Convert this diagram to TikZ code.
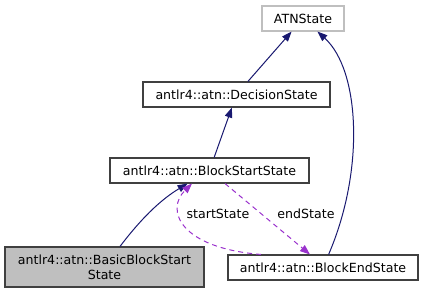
\documentclass[tikz,border=0pt]{standalone}
\usepackage{fontspec}
\setmainfont{DejaVu Sans}
\usetikzlibrary{arrows.meta}

\definecolor{navyedge}{HTML}{191970}
\definecolor{useedge}{HTML}{9A32CD}
\definecolor{boxline}{HTML}{404040}
\definecolor{boxgray}{HTML}{BFBFBF}

\begin{document}
\begin{tikzpicture}[x=1pt,y=-1pt,>={Triangle[length=10pt,width=7.5pt]},
  font=\fontsize{12.6}{15}\selectfont,
  cls/.style={draw=boxline,line width=1.1pt,fill=white,inner sep=0pt,minimum height=25pt,align=center},
  inherit/.style={->,draw=navyedge,line width=1pt},
  usage/.style={->,draw=useedge,line width=1pt,dash pattern=on 5pt off 4pt}]
  \useasboundingbox (0,0) rectangle (424,293);

  \node [cls, draw=boxgray, minimum width=82pt] (atn) at (303,18.5) {ATNState};
  \node [cls, minimum width=187pt] (dec) at (236.5,94.5) {antlr4::atn::DecisionState};
  \node [cls, minimum width=199pt] (bss) at (209.5,170.5) {antlr4::atn::BlockStartState};
  \node [cls, fill=boxgray, minimum width=199pt, minimum height=40pt] (bbs) at (104.5,267) {antlr4::atn::BasicBlockStart\\State};
  \node [cls, minimum width=190pt] (bes) at (323,267.5) {antlr4::atn::BlockEndState};

  % inheritance
  \path (dec) edge [inherit] (atn);
  \path (bss) edge [inherit] (dec);
  \draw [inherit] (bes) .. controls (365,170) and (360,70) .. (atn);
  \draw [inherit] (bbs) .. controls (140,220) and (160,200) .. (bss);

  % members
  \draw [usage] ([xshift=15.5pt]bss.south) -- ([xshift=-13pt]bes.north);
  \node (lend) at (306,214) {endState};
  \draw [usage] ([xshift=-62pt]bes.north) .. controls (180,248) and (165,210) .. ([xshift=-17.5pt]bss.south);
  \node (lstart) at (218,214) {startState};
\end{tikzpicture}
\end{document}
